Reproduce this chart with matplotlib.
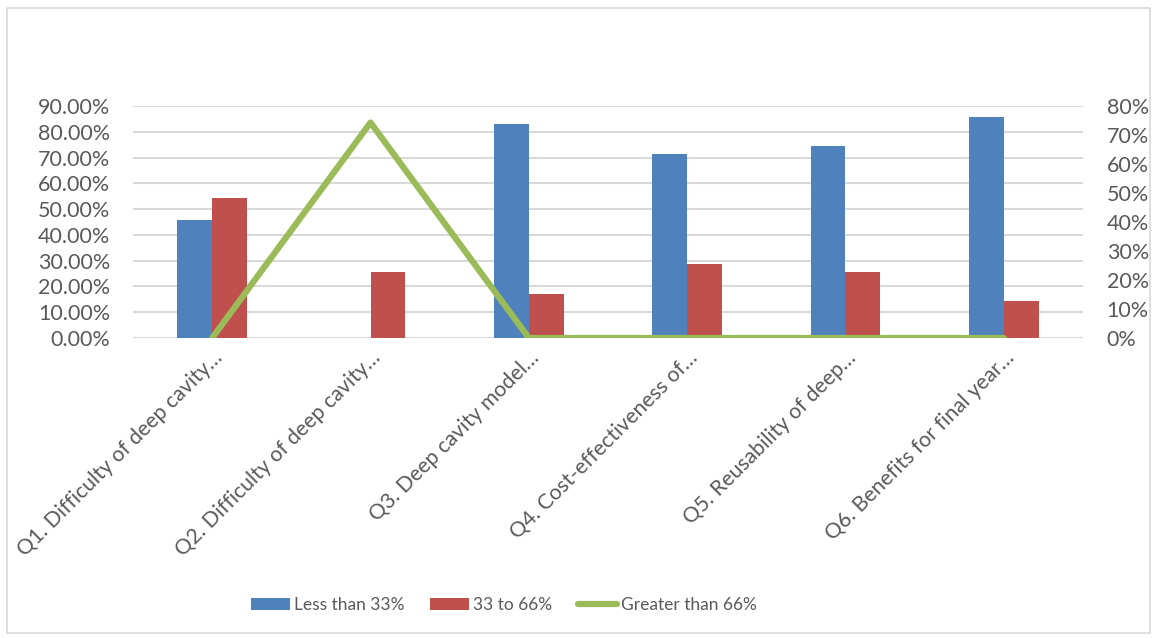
import matplotlib
matplotlib.use("Agg")
import matplotlib.pyplot as plt
import numpy as np
from matplotlib.ticker import FuncFormatter
from matplotlib.patches import Rectangle

categories = ["Q1. Difficulty of deep cavity…", "Q2. Difficulty of deep cavity…",
              "Q3. Deep cavity model…", "Q4. Cost-effectiveness of…",
              "Q5. Reusability of deep…", "Q6. Benefits for final year…"]
less_33 = [45.71, 0.0, 82.86, 71.43, 74.29, 85.71]
mid_33_66 = [54.29, 25.71, 17.14, 28.57, 25.71, 14.29]
greater_66 = [0.0, 74.29, 0.0, 0.0, 0.0, 0.0]
left_ticks = [0, 10, 20, 30, 40, 50, 60, 70, 80, 90]
right_ticks = [0, 10, 20, 30, 40, 50, 60, 70, 80]

plt.rcParams['font.family'] = ['Lato', 'DejaVu Sans']
W, H = 1158, 638
fig = plt.figure(figsize=(W/100, H/100), dpi=100)
fig.patches.append(Rectangle((7/W, 5/H), (1150-7)/W, (630-5)/H, transform=fig.transFigure,
                             fill=False, edgecolor='#d9d9d9', linewidth=1.2))

left, right, top, bottom = 133, 1083, 106, 338
ax = fig.add_axes([left/W, 1-bottom/H, (right-left)/W, (bottom-top)/H])
ax2 = ax.twinx()

x = np.arange(len(categories))
bw = 0.22
ax.bar(x - bw/2, less_33, bw, color='#4f81bd', label='Less than 33%', zorder=3)
ax.bar(x + bw/2, mid_33_66, bw, color='#c0504d', label='33 to 66%', zorder=3)
ax2.plot(x, greater_66, color='#9bbb59', linewidth=4.5, solid_capstyle='round',
         label='Greater than 66%', zorder=4)

ax.set_xlim(-0.5, len(categories) - 0.5)
ax.set_ylim(0, 90)
ax2.set_ylim(0, 80)
ax.set_yticks(left_ticks)
ax2.set_yticks(right_ticks)
ax.yaxis.set_major_formatter(FuncFormatter(lambda v, p: f"{v:.2f}%"))
ax2.yaxis.set_major_formatter(FuncFormatter(lambda v, p: f"{v:.0f}%"))
ax.grid(axis='y', color='#d9d9d9', linewidth=1.5, zorder=0)
ax.set_axisbelow(True)
for a in (ax, ax2):
    for s in a.spines.values():
        s.set_visible(False)
    a.tick_params(length=0, labelsize=15.5, colors='#595959')
ax.tick_params(axis='y', pad=16.5)
ax2.tick_params(axis='y', pad=17)
ax.set_xticks(x)
ax.set_xticklabels(categories, rotation=45, ha='right', va='top', rotation_mode='anchor',
                   fontsize=15.3)
ax.tick_params(axis='x', pad=7)

h1, l1 = ax.get_legend_handles_labels()
h2, l2 = ax2.get_legend_handles_labels()
fig.legend(h1 + h2, l1 + l2, loc='center', bbox_to_anchor=(504/W, 1-605/H), ncol=3,
           frameon=False, fontsize=12.5, labelcolor='#595959', handlelength=2.25,
           handleheight=0.7, columnspacing=1.45, handletextpad=0.25)

fig.savefig("out.png", dpi=100)
